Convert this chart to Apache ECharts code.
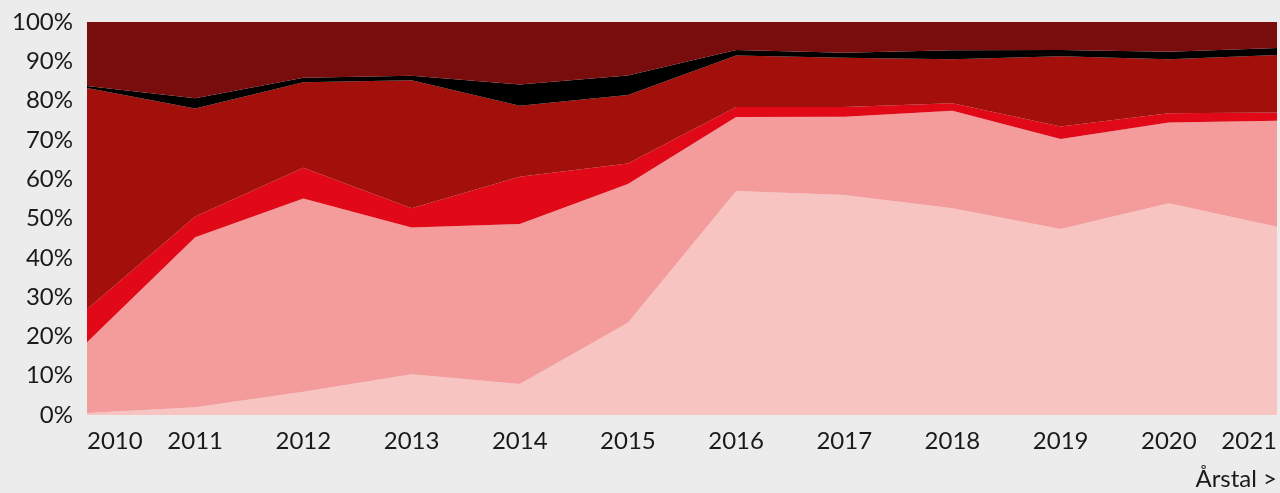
<!DOCTYPE html>
<html>
<head>
<meta charset="utf-8">
<script src="https://cdn.jsdelivr.net/npm/echarts@6/dist/echarts.min.js"></script>
<style>
html,body{margin:0;padding:0;background:#ececec;}
#chart{width:1280px;height:493px;}
</style>
</head>
<body>
<div id="chart"></div>
<script>
const years = ['2010','2011','2012','2013','2014','2015','2016','2017','2018','2019','2020','2021'];
const s1 = [0.5, 2.0, 5.9, 10.4, 7.9, 23.5, 57.0, 56.0, 52.6, 47.3, 53.9, 47.9];
const s2 = [18.0, 43.2, 49.2, 37.3, 40.7, 35.3, 18.8, 19.9, 24.8, 22.9, 20.5, 27.0];
const s3 = [8.4, 5.3, 7.8, 4.9, 12.0, 5.2, 2.6, 2.5, 1.9, 3.2, 2.4, 2.1];
const s4 = [56.3, 27.5, 21.8, 32.6, 18.1, 17.4, 13.1, 12.5, 11.2, 17.9, 13.7, 14.6];
const s5 = [0.5, 2.6, 1.1, 1.1, 5.4, 5.0, 1.4, 1.3, 2.3, 1.6, 1.9, 1.8];
const s6 = [16.3, 19.4, 14.2, 13.7, 15.9, 13.6, 7.1, 7.8, 7.2, 7.1, 7.6, 6.6];
const yTicks = [0,10,20,30,40,50,60,70,80,90,100];

const colors = ['#f8c4c2','#f39c9b','#e10817','#a3100b','#000000','#790c0c'];
const seriesData = [s1,s2,s3,s4,s5,s6];

const chart = echarts.init(document.getElementById('chart'), null, {renderer:'canvas'});
const font = 'Lato, "Open Sans", sans-serif';
chart.setOption({
  backgroundColor:'#ececec',
  animation:false,
  grid:{left:87,right:2,top:22,bottom:78,containLabel:false},
  xAxis:{
    type:'category', data:years, boundaryGap:false,
    axisLine:{show:false}, axisTick:{show:false}, splitLine:{show:false},
    axisLabel:{color:'#1a1a1a', fontSize:24, fontFamily:font, margin:14,
      alignMinLabel:'left', alignMaxLabel:'right', interval:0}
  },
  yAxis:{
    type:'value', min:0, max:100, interval:10,
    axisLine:{show:false}, axisTick:{show:false}, splitLine:{show:false},
    axisLabel:{color:'#1a1a1a', fontSize:24, fontFamily:font, margin:14,
      formatter: v => v + '%'}
  },
  graphic:[{type:'text', right:3, top:467,
    style:{text:'Årstal >', font:'24px '+font, fill:'#1a1a1a'}}],
  series: seriesData.map((d,i)=>({
    type:'line', stack:'total', data:d, symbol:'none',
    lineStyle:{width:0}, areaStyle:{color:colors[i], opacity:1},
    itemStyle:{color:colors[i]}
  }))
});
</script>
</body>
</html>
